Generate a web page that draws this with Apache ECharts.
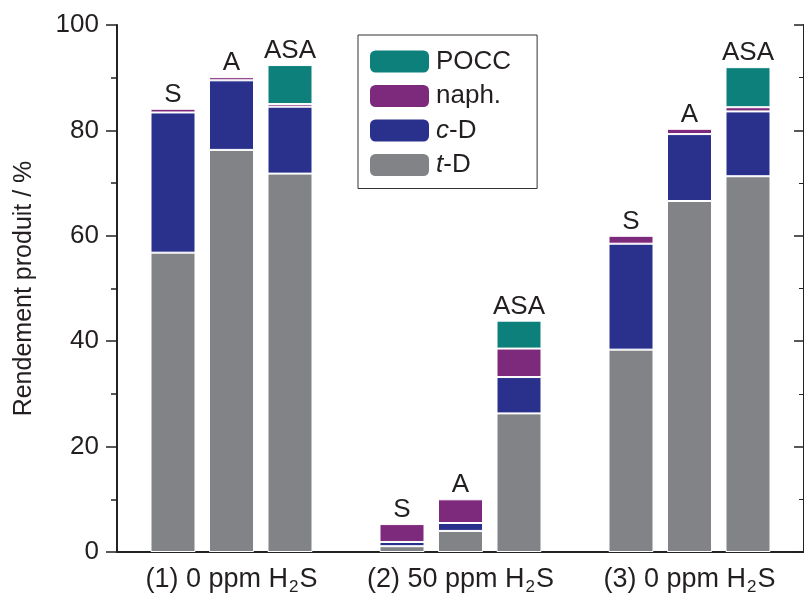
<!DOCTYPE html>
<html><head><meta charset="utf-8">
<script src="https://cdn.jsdelivr.net/npm/echarts@6/dist/echarts.min.js"></script>
<style>html,body{margin:0;padding:0;background:#fff}#c{width:804px;height:596px}</style>
</head><body><div id="c"></div>
<script>
var groups = ['(1) 0 ppm H{sub|2}S', '(2) 50 ppm H{sub|2}S', '(3) 0 ppm H{sub|2}S'];
var runs = ['S', 'A', 'ASA'];
// values per run, one entry per group
var tD   = { S: [56.8, 1.1, 38.4], A: [76.3, 4.0, 66.6], ASA: [71.8, 26.3, 71.3] };
var cD   = { S: [26.6, 0.8, 20.1], A: [13.2, 1.5, 12.7], ASA: [12.7, 6.9, 12.3] };
var naph = { S: [0.7, 3.4, 1.5],   A: [0.6, 4.5, 1.0],   ASA: [0.5, 5.4, 0.8] };
var pocc = { ASA: [7.4, 5.3, 7.6] };
var yTicks = [0, 20, 40, 60, 80, 100];

var colors = { 't-D': '#828386', 'c-D': '#2a318c', 'naph.': '#7e2a7c', 'POCC': '#0e807c' };
var FONT = 'Liberation Sans';
var TXT = '#231f20';

var series = [];
function addSeries(name, stack, data, topLabel) {
  var s = {
    name: name, type: 'bar', stack: stack, data: data,
    barWidth: 45, barGap: '30%',
    itemStyle: { color: colors[name], borderColor: '#ffffff', borderWidth: 1 },
    emphasis: { disabled: true }
  };
  if (topLabel) {
    s.label = { show: true, position: 'top', distance: 1, formatter: topLabel,
      fontFamily: FONT, fontSize: 26, color: TXT };
  }
  series.push(s);
}
runs.forEach(function (r) {
  addSeries('t-D', r, tD[r]);
  addSeries('c-D', r, cD[r]);
  addSeries('naph.', r, naph[r], pocc[r] ? null : r);
  if (pocc[r]) addSeries('POCC', r, pocc[r], r);
});

var chart = echarts.init(document.getElementById('c'), null, { renderer: 'canvas' });
chart.setOption({
  animation: false,
  textStyle: { fontFamily: FONT },
  grid: { left: 117, right: -9, top: 25, bottom: 43 },
  legend: {
    data: ['POCC', 'naph.', 'c-D', 't-D'],
    orient: 'vertical', left: 358, top: 35,
    itemWidth: 59, itemHeight: 22, itemGap: 8.5,
    padding: [13.5, 26, 10.5, 12],
    borderColor: '#333', borderWidth: 1,
    selectedMode: false,
    itemStyle: { borderWidth: 0 },
    formatter: function (n) {
      if (n === 'c-D') return '{i|c}-D';
      if (n === 't-D') return '{i|t}-D';
      return n;
    },
    textStyle: { fontFamily: FONT, fontSize: 26, color: TXT, padding: [0, 0, 0, 2],
      rich: { i: { fontStyle: 'italic', fontFamily: FONT, fontSize: 26, color: TXT } } }
  },
  xAxis: [{
    type: 'category', data: groups, position: 'bottom',
    axisLine: { lineStyle: { color: '#222', width: 2 } },
    axisTick: { inside: true, alignWithLabel: true, length: 4, lineStyle: { color: '#222' } },
    axisLabel: { interval: 0, margin: 12, fontFamily: FONT, fontSize: 27, color: TXT,
      rich: { sub: { fontSize: 17, fontFamily: FONT, color: TXT, verticalAlign: 'bottom', padding: [15, 1, 0, 1] } } }
  }, {
    type: 'category', data: groups, position: 'top',
    axisLine: { lineStyle: { color: '#222', width: 2 } },
    axisTick: { inside: true, alignWithLabel: true, length: 4, lineStyle: { color: '#222' } },
    axisLabel: { show: false }
  }],
  yAxis: [{
    type: 'value', min: 0, max: 100, interval: 20,
    name: 'Rendement produit / %', nameLocation: 'middle', nameGap: 80, nameMoveOverlap: false,
    nameTextStyle: { fontFamily: FONT, fontSize: 25, color: TXT },
    axisLine: { show: true, lineStyle: { color: '#222', width: 2 } },
    axisTick: { show: true, length: 11, lineStyle: { color: '#222', width: 1.5 } },
    minorTick: { show: true, splitNumber: 2, length: 6, lineStyle: { color: '#222', width: 1.5 } },
    splitLine: { show: false },
    axisLabel: { margin: 18, fontFamily: FONT, fontSize: 26, color: TXT,
      formatter: function (v) { return yTicks.indexOf(v) >= 0 ? String(v) : ''; } }
  }, {
    type: 'value', min: 0, max: 100, interval: 20, position: 'right',
    axisLine: { show: true, lineStyle: { color: '#222', width: 2 } },
    axisTick: { show: true, inside: true, length: 10, lineStyle: { color: '#222', width: 1.5 } },
    minorTick: { show: true, splitNumber: 2, length: 5, lineStyle: { color: '#222' } },
    splitLine: { show: false },
    axisLabel: { show: false }
  }],
  series: series
});
</script></body></html>
